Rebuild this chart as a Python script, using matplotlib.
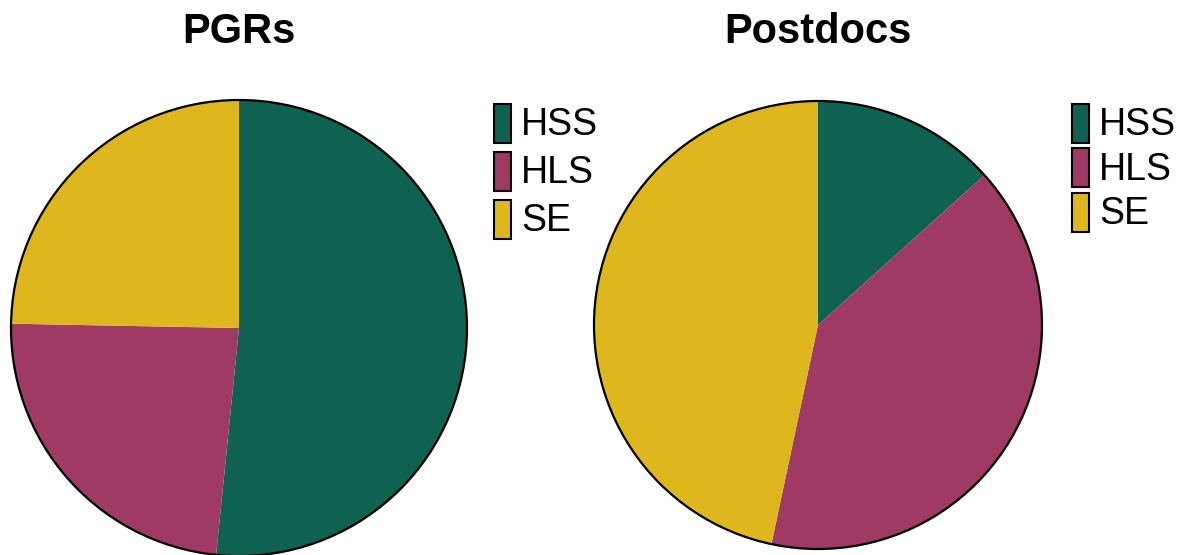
import matplotlib.pyplot as plt
from matplotlib.patches import Circle

plt.rcParams['font.family'] = ['Liberation Sans', 'DejaVu Sans']

labels = ['HSS', 'HLS', 'SE']
colours = ['#0F6152', '#9E3A64', '#DEB61E']
pgr_share = [51.6, 23.7, 24.7]
postdoc_share = [2, 6, 7]

W, H = 1182, 555
fig = plt.figure(figsize=(W / 100, H / 100), dpi=100)


def pie_panel(cx, cy, r, values, title, leg_x, leg_y, pitch):
    # axes box in pixels, y measured from the top of the picture
    ax = fig.add_axes([(cx - r) / W, (H - cy - r) / H, 2 * r / W, 2 * r / H])
    wedges, _ = ax.pie(values, colors=colours, startangle=90, counterclock=False,
                       radius=1, wedgeprops=dict(linewidth=0, antialiased=True))
    ax.add_patch(Circle((0, 0), 1, fill=False, edgecolor='black',
                        linewidth=1.6, clip_on=False))
    ax.set_xlim(-1, 1)
    ax.set_ylim(-1, 1)
    ax.set_aspect('equal')
    ax.axis('off')
    fig.text(cx / W, 1 - 32 / H, title, ha='center', va='center',
             fontsize=30, fontweight='bold')
    fs = 27
    px = fs * 100 / 72
    leg = fig.legend(wedges, labels, loc='upper left',
                     bbox_to_anchor=(leg_x / W, 1 - leg_y / H),
                     frameon=False, fontsize=fs, borderpad=0, borderaxespad=0,
                     handlelength=17 / px, handleheight=39 / px,
                     handletextpad=10 / px,
                     labelspacing=pitch / px)
    for p in leg.get_patches():
        p.set_edgecolor('black')
        p.set_linewidth(1.5)
        p.set_height(28)   # points
        p.set_y(-5.5)
    return ax


pie_panel(239, 328, 228, pgr_share, 'PGRs', 494, 105, 10)
pie_panel(818, 325, 224, postdoc_share, 'Postdocs', 1072, 105, 6.5)

fig.savefig('out.png', dpi=100)
